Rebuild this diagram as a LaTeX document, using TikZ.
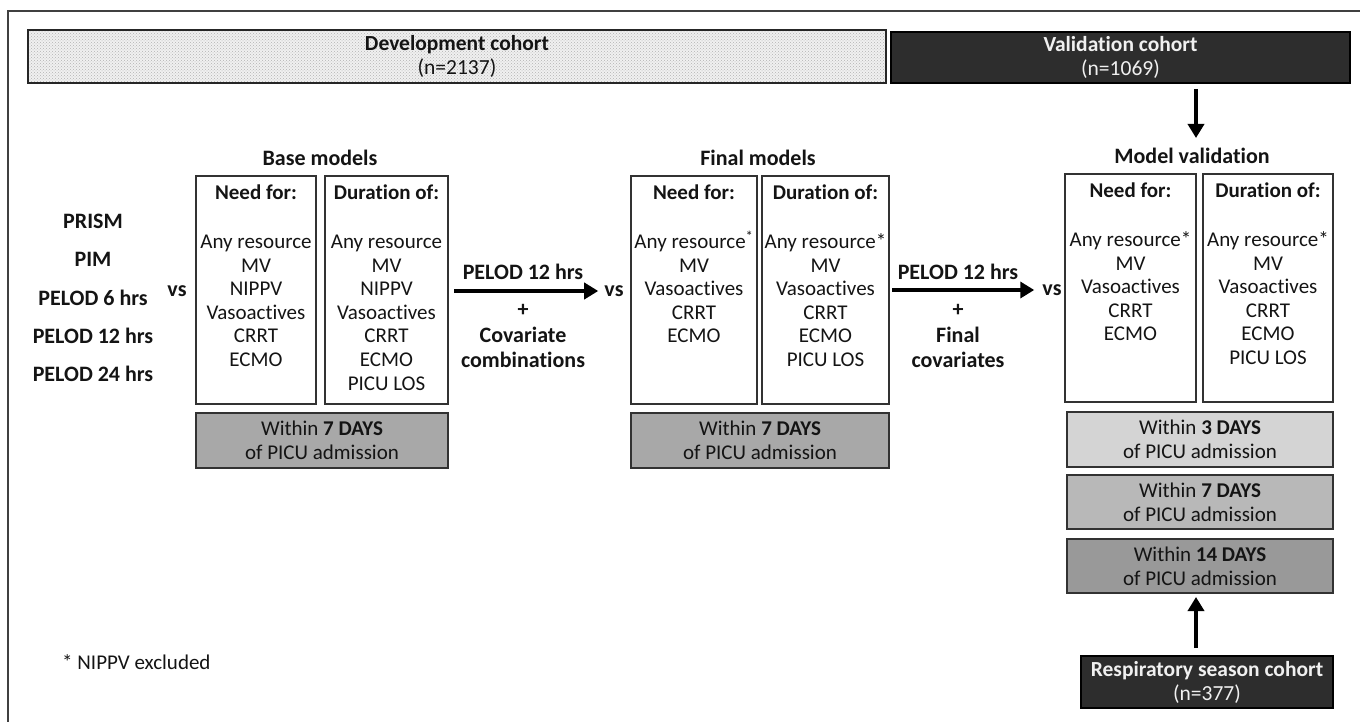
\documentclass[tikz,border=0pt]{standalone}
\usepackage{fontspec}
\setmainfont[Ligatures=NoCommon]{Carlito}
\usetikzlibrary{arrows.meta,patterns}
\definecolor{boxdark}{RGB}{45,45,45}
\definecolor{edge}{RGB}{50,50,50}
\definecolor{daysA}{RGB}{168,168,168}
\definecolor{days3}{RGB}{212,212,212}
\definecolor{days7}{RGB}{184,184,184}
\definecolor{days14}{RGB}{153,153,153}
\definecolor{txt}{RGB}{20,20,20}
\begin{document}
\begin{tikzpicture}[x=1pt,y=-1pt,
  every node/.style={text=txt},
  framestyle/.style={draw=black!75, line width=1.3pt},
  cbox/.style={draw=edge, line width=1.3pt, inner sep=0pt, outer sep=0pt},
  darkbox/.style={cbox, draw=black, fill=boxdark, text=white!94!black, align=center,
    font=\fontsize{21.5}{24}\selectfont},
  devbox/.style={cbox, draw=black!85, preaction={fill=black!6},
    pattern=crosshatch dots, pattern color=black!30, align=center,
    font=\fontsize{21.5}{24}\selectfont},
  daysbox/.style={cbox, align=center, font=\fontsize{21}{24}\selectfont},
  listtxt/.style={align=center, inner sep=0pt, anchor=north,
    font=\fontsize{21}{23.6}\selectfont},
  ttl/.style={inner sep=0pt, font=\fontsize{22}{24}\selectfont\bfseries},
  vstxt/.style={inner sep=2pt, font=\fontsize{22}{24}\selectfont\bfseries},
  armlabel/.style={inner sep=0pt, align=center, font=\fontsize{22}{25.5}\selectfont\bfseries},
  fat/.style={line width=4pt, -{Triangle[length=14pt,width=16pt]}},
]
\useasboundingbox (0,0) rectangle (1360,722);
% outer frame (clipped at right and bottom)
\draw[framestyle] (8,722) -- (8,11) -- (1362,11);

% cohort boxes
\node[devbox, minimum width=858pt, minimum height=53pt] (dev) at (457,56.5)
  {\textbf{Development cohort}\\(n=2137)};
\node[darkbox, minimum width=459pt, minimum height=51pt] (val) at (1120.5,57.5)
  {\textbf{Validation cohort}\\(n=1069)};

% base models
\node[ttl] (btitle) at (320,158) {Base models};
\node[cbox, minimum width=120pt, minimum height=228pt] (bneed) at (256,290) {};
\node[cbox, minimum width=123pt, minimum height=228pt] (bdur) at (386.5,290) {};
\node[listtxt] (bneedt) at ([yshift=-9pt]bneed.north)
  {\textbf{Need for:}\\[25pt]Any resource\\MV\\NIPPV\\Vasoactives\\CRRT\\ECMO};
\node[listtxt] (bdurt) at ([yshift=-9pt]bdur.north)
  {\textbf{Duration of:}\\[25pt]Any resource\\MV\\NIPPV\\Vasoactives\\CRRT\\ECMO\\PICU LOS};
\node[daysbox, fill=daysA, minimum width=252pt, minimum height=55pt] (bdays) at (322,440.5)
  {Within \textbf{7 DAYS}\\of PICU admission};

% scores
\node[align=center, inner sep=0pt, font=\fontsize{22}{38.3}\selectfont\bfseries] (scores) at (93,298)
  {PRISM\\PIM\\PELOD 6 hrs\\PELOD 12 hrs\\PELOD 24 hrs};
\node[vstxt] (vs1) at (177,291) {vs};

% final models
\node[ttl] (ftitle) at (758,158) {Final models};
\node[cbox, minimum width=126pt, minimum height=228pt] (fneed) at (694,290) {};
\node[cbox, minimum width=127pt, minimum height=228pt] (fdur) at (825.5,290) {};
\node[listtxt] (fneedt) at ([yshift=-9pt]fneed.north)
  {\textbf{Need for:}\\[25pt]Any resource\textsuperscript{*}\\MV\\Vasoactives\\CRRT\\ECMO};
\node[listtxt] (fdurt) at ([yshift=-9pt]fdur.north)
  {\textbf{Duration of:}\\[25pt]Any resource*\\MV\\Vasoactives\\CRRT\\ECMO\\PICU LOS};
\node[daysbox, fill=daysA, minimum width=258pt, minimum height=55pt] (fdays) at (760,440.5)
  {Within \textbf{7 DAYS}\\of PICU admission};
\node[vstxt] (vs2) at (614,291) {vs};

% model validation
\node[ttl] (mvt) at (1192,156) {Model validation};
\node[cbox, minimum width=131pt, minimum height=228pt] (vneed) at (1130.5,288) {};
\node[cbox, minimum width=130pt, minimum height=228pt] (vdur) at (1268,288) {};
\node[listtxt] (vneedt) at ([yshift=-9pt]vneed.north)
  {\textbf{Need for:}\\[25pt]Any resource*\\MV\\Vasoactives\\CRRT\\ECMO};
\node[listtxt] (vdurt) at ([yshift=-9pt]vdur.north)
  {\textbf{Duration of:}\\[25pt]Any resource*\\MV\\Vasoactives\\CRRT\\ECMO\\PICU LOS};
\node[daysbox, fill=days3, minimum width=266pt, minimum height=55pt] (d3) at (1200,439.5)
  {Within \textbf{3 DAYS}\\of PICU admission};
\node[daysbox, fill=days7, minimum width=266pt, minimum height=54pt] (d7) at (1200,502)
  {Within \textbf{7 DAYS}\\of PICU admission};
\node[daysbox, fill=days14, minimum width=266pt, minimum height=54pt] (d14) at (1200,566)
  {Within \textbf{14 DAYS}\\of PICU admission};
\node[vstxt] (vs3) at (1052,290) {vs};

\node[darkbox, minimum width=252pt, minimum height=52pt] (resp) at (1207,682)
  {\textbf{Respiratory season cohort}\\(n=377)};

% arrow labels
\node[armlabel] (a1top) at (523,272) {PELOD 12 hrs};
\node[armlabel] (a1bot) at (523,336) {+\\Covariate\\combinations};
\node[armlabel] (a2top) at (958,272) {PELOD 12 hrs};
\node[armlabel] (a2bot) at (958,336) {+\\Final\\covariates};

% arrows
\draw[fat, shorten <=6pt, shorten >=4pt] (bdur.east |- vs2.west) -- (vs2.west);
\draw[fat, shorten <=3pt, shorten >=6pt] (fdur.east |- vs3.west) -- (vs3.west);
\draw[fat, shorten <=6pt, shorten >=10pt] (vneed.east |- val.south) -- (vneed.east |- mvt.north);
\draw[fat, shorten <=8pt, shorten >=4pt] (vneed.east |- resp.north) -- (vneed.east |- d14.south);

% footnote
\node[anchor=west, inner sep=0pt, font=\fontsize{21}{24}\selectfont] (foot) at (62,662) {* NIPPV excluded};
\end{tikzpicture}
\end{document}
